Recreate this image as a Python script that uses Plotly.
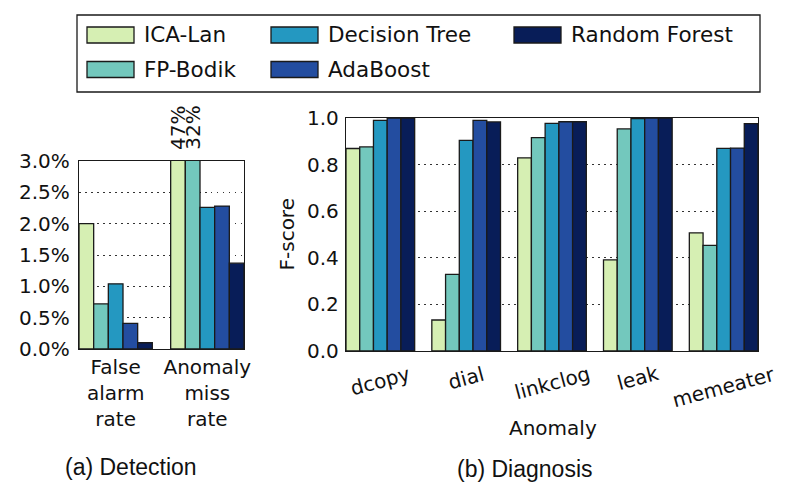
import plotly.graph_objects as go

# ---------------- data ----------------
series = ["ICA-Lan", "FP-Bodik", "Decision Tree", "AdaBoost", "Random Forest"]
colors = ["#d6efb3", "#73c8bd", "#2498c1", "#234da0", "#081d58"]

detect_cats = ["False<br>alarm<br>rate", "Anomaly<br>miss<br>rate"]
detect_vals = {
    "ICA-Lan":       [0.0200, 0.47],
    "FP-Bodik":      [0.0072, 0.32],
    "Decision Tree": [0.0104, 0.0226],
    "AdaBoost":      [0.0041, 0.0228],
    "Random Forest": [0.0010, 0.0137],
}
detect_ymax = 0.03
detect_ticks = [0, 0.005, 0.01, 0.015, 0.02, 0.025, 0.03]

diag_cats = ["dcopy", "dial", "linkclog", "leak", "memeater"]
diag_vals = {
    "ICA-Lan":       [0.869, 0.133, 0.829, 0.391, 0.507],
    "FP-Bodik":      [0.876, 0.329, 0.916, 0.953, 0.453],
    "Decision Tree": [0.990, 0.904, 0.977, 0.997, 0.870],
    "AdaBoost":      [1.000, 0.990, 0.984, 1.000, 0.871],
    "Random Forest": [1.000, 0.983, 0.984, 1.000, 0.976],
}
diag_ticks = [0.0, 0.2, 0.4, 0.6, 0.8, 1.0]

# ---------------- figure ----------------
W, H = 785, 490
FONT = "DejaVu Sans"
TITLE_FONT = "Liberation Sans"
EDGE = dict(color="#1a1a1a", width=1.3)
TXT = "#111"
FS = 20

def px_x(p):
    return p / W

def px_y(p):
    return 1 - p / H

fig = go.Figure()
for name, col in zip(series, colors):
    fig.add_trace(go.Bar(x=detect_cats, y=detect_vals[name], name=name,
                         marker=dict(color=col, line=EDGE),
                         xaxis="x", yaxis="y", showlegend=False))
    fig.add_trace(go.Bar(x=diag_cats, y=diag_vals[name], name=name,
                         marker=dict(color=col, line=EDGE),
                         xaxis="x2", yaxis="y2", showlegend=False))

annotations = []
shapes = []

# labels for bars exceeding the detection axis
n = len(series)
bw = 0.8 / n
for j, name in enumerate(series):
    for i, v in enumerate(detect_vals[name]):
        if v > detect_ymax:
            annotations.append(dict(
                x=i - 0.4 + bw / 2 + j * bw, xref="x", y=px_y(152), yref="paper",
                text=f"{v*100:.0f}%", textangle=-90, showarrow=False,
                xanchor="center", yanchor="bottom",
                font=dict(family=FONT, size=FS, color=TXT)))

# rotated diagnosis category labels
for i, c in enumerate(diag_cats):
    annotations.append(dict(
        x=i, xref="x2", y=px_y(359), yref="paper", text=c, textangle=-15,
        showarrow=False, xanchor="center", yanchor="top",
        font=dict(family=FONT, size=FS, color=TXT)))

# axis titles and subplot captions
annotations += [
    dict(x=px_x(553), y=px_y(428), xref="paper", yref="paper", text="Anomaly",
         showarrow=False, xanchor="center", yanchor="middle",
         font=dict(family=FONT, size=FS, color=TXT)),
    dict(x=px_x(286), y=px_y(234.5), xref="paper", yref="paper", text="F-score",
         textangle=-90, showarrow=False, xanchor="center", yanchor="middle",
         font=dict(family=FONT, size=FS, color=TXT)),
    dict(x=px_x(131), y=px_y(467), xref="paper", yref="paper", text="(a) Detection",
         showarrow=False, xanchor="center", yanchor="middle",
         font=dict(family=TITLE_FONT, size=23, color=TXT)),
    dict(x=px_x(525), y=px_y(469), xref="paper", yref="paper", text="(b) Diagnosis",
         showarrow=False, xanchor="center", yanchor="middle",
         font=dict(family=TITLE_FONT, size=23, color=TXT)),
]

# manual legend (matplotlib-style, 3 columns filled column-wise)
shapes.append(dict(type="rect", xref="paper", yref="paper",
                   x0=px_x(77), x1=px_x(760), y0=px_y(92), y1=px_y(15),
                   line=dict(color="#1a1a1a", width=1.3), fillcolor="white", layer="above"))
col_x = [87, 271, 514]
row_y = [35, 69.5]
for k, (name, col) in enumerate(zip(series, colors)):
    c, r = k // 2, k % 2
    x0 = col_x[c]
    yc = row_y[r]
    shapes.append(dict(type="rect", xref="paper", yref="paper",
                       x0=px_x(x0), x1=px_x(x0 + 47), y0=px_y(yc + 8), y1=px_y(yc - 8),
                       line=dict(color="#1a1a1a", width=1.3), fillcolor=col, layer="above"))
    annotations.append(dict(x=px_x(x0 + 55), y=px_y(yc), xref="paper", yref="paper",
                            text=name, showarrow=False, xanchor="left", yanchor="middle",
                            font=dict(family=FONT, size=21.5, color=TXT)))

axis_common = dict(showline=True, linecolor="#1a1a1a", linewidth=1.3, mirror=True,
                   ticks="", zeroline=False, automargin=False)
grid_common = dict(showgrid=True, gridcolor="#333", griddash="1.5px,4.5px", gridwidth=1.2)

fig.update_layout(
    width=W, height=H,
    margin=dict(l=0, r=0, t=0, b=0),
    paper_bgcolor="white", plot_bgcolor="white",
    barmode="group", bargap=0.2, bargroupgap=0,
    font=dict(family=FONT, size=FS, color=TXT),
    xaxis=dict(domain=[px_x(79), px_x(244)], anchor="y", type="category",
               range=[-0.4, len(detect_cats) - 0.6], showgrid=False,
               tickfont=dict(size=FS), **axis_common),
    yaxis=dict(domain=[px_y(349), px_y(161)], anchor="x",
               range=[0, detect_ymax], tickvals=detect_ticks, tickformat=".1%",
               ticklabelstandoff=4, tickfont=dict(size=FS), **grid_common, **axis_common),
    xaxis2=dict(domain=[px_x(346), px_x(758)], anchor="y2", type="category",
                range=[-0.4, len(diag_cats) - 0.6], showgrid=False,
                showticklabels=False, **axis_common),
    yaxis2=dict(domain=[px_y(351), px_y(118)], anchor="x2",
                range=[0, 1.0], tickvals=diag_ticks, tickformat=".1f",
                ticklabelstandoff=2, tickfont=dict(size=FS), **grid_common, **axis_common),
    annotations=annotations,
    shapes=shapes,
)

fig.write_html("out.html")
